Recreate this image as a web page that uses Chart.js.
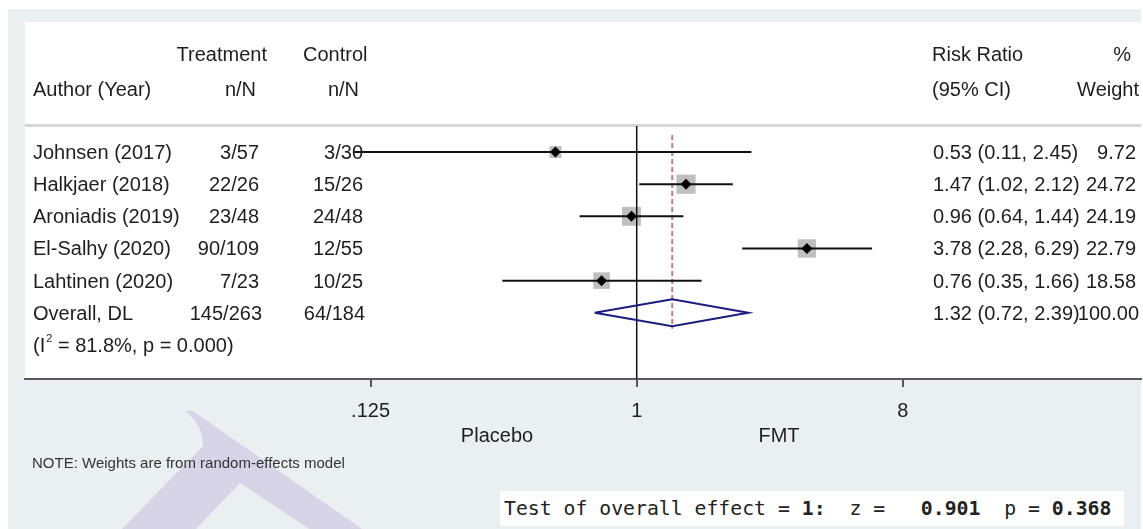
<!DOCTYPE html>
<html>
<head>
<meta charset="utf-8">
<script src="https://cdn.jsdelivr.net/npm/chart.js@4.4.0/dist/chart.umd.min.js"></script>
<style>
html,body{margin:0;padding:0;background:#ffffff;}
#wrap{position:relative;width:1143px;height:529px;overflow:hidden;}
#c{position:absolute;left:0;top:0;}
#note{position:absolute;left:32px;top:454px;font:15px "Liberation Sans",Arial,sans-serif;color:#333;white-space:nowrap;}
#test{position:absolute;left:500px;top:491px;width:624px;height:35px;background:#fff;font:19.8px "DejaVu Sans Mono",monospace;color:#222;white-space:pre;line-height:36px;padding-left:4px;box-sizing:border-box;}
#test b{font-weight:bold;}
</style>
</head>
<body>
<div id="wrap">
<canvas id="c" width="1143" height="529"></canvas>
<div id="note">NOTE: Weights are from random-effects model</div>
<div id="test">Test of overall effect = <b>1:</b>  z =   <b>0.901</b>  p = <b>0.368</b></div>
</div>
<script>
// ---- data ----
const authors   = ['Johnsen (2017)', 'Halkjaer (2018)', 'Aroniadis (2019)', 'El-Salhy (2020)', 'Lahtinen (2020)'];
const treatment = ['3/57', '22/26', '23/48', '90/109', '7/23'];
const control   = ['3/30', '15/26', '24/48', '12/55', '10/25'];
const rr        = [0.53, 1.47, 0.96, 3.78, 0.76];
const lower     = [0.11, 1.02, 0.64, 2.28, 0.35];
const upper     = [2.45, 2.12, 1.44, 6.29, 1.66];
const weights   = [9.72, 24.72, 24.19, 22.79, 18.58];

const overallLabel     = 'Overall, DL';
const overallTreatment = '145/263';
const overallControl   = '64/184';
const overallRR        = [1.32];
const overallLower     = [0.72];
const overallUpper     = [2.39];
const overallWeight    = [100.00];
const heterogeneity    = ['81.8%', '0.000'];

const tickValues = [0.125, 1, 8];
const tickLabels = ['.125', '1', '8'];
const nullValue  = 1;

// ---- styles ----
const FONT = '"Liberation Sans", Arial, sans-serif';
const TXT = '#1e1e1e';
const Y_MIN = -0.81, Y_MAX = 7.06;

const fmt = v => v.toFixed(2);
const ciText = (m, l, u) => fmt(m) + ' (' + fmt(l) + ', ' + fmt(u) + ')';

const datasets = [];

// squares (weight boxes)
datasets.push({
  data: rr.map((v, i) => ({x: v, y: i})),
  pointStyle: 'rect',
  pointRadius: ctx => 2.72 * Math.sqrt(weights[ctx.dataIndex]),
  pointHoverRadius: ctx => 2.72 * Math.sqrt(weights[ctx.dataIndex]),
  backgroundColor: '#bfbfbf',
  borderWidth: 0,
  showLine: false,
  order: 6
});
// null line
datasets.push({
  data: [{x: nullValue, y: Y_MIN}, {x: nullValue, y: Y_MAX}],
  showLine: true, borderColor: '#111', borderWidth: 1.5, pointRadius: 0, order: 5
});
// overall effect dashed line
datasets.push({
  data: [{x: overallRR[0], y: -0.53}, {x: overallRR[0], y: 5.5}],
  showLine: true, borderColor: '#c27d84', borderWidth: 2, borderDash: [5, 3], pointRadius: 0, order: 5
});
// CI lines
rr.forEach((v, i) => {
  datasets.push({
    data: [{x: lower[i], y: i}, {x: upper[i], y: i}],
    showLine: true, borderColor: '#111', borderWidth: 2, pointRadius: 0, order: 3
  });
});
// overall diamond
const oy = authors.length;
datasets.push({
  data: [
    {x: overallLower[0], y: oy}, {x: overallRR[0], y: oy - 0.42},
    {x: overallUpper[0], y: oy}, {x: overallRR[0], y: oy + 0.42},
    {x: overallLower[0], y: oy}
  ],
  showLine: true, borderColor: '#1c1c7c', borderWidth: 2, pointRadius: 0, fill: false, order: 2
});
// point estimate markers
datasets.push({
  data: rr.map((v, i) => ({x: v, y: i})),
  pointStyle: 'rectRot', pointRadius: 5.5, pointHoverRadius: 5.5,
  backgroundColor: '#000', borderWidth: 0, showLine: false, order: 1
});

const textPlugin = {
  id: 'forestText',
  beforeDraw(chart) {
    const ctx = chart.ctx;
    ctx.save();
    ctx.fillStyle = '#ffffff';
    ctx.fillRect(0, 0, 1143, 529);
    ctx.fillStyle = '#eaf0f2';
    ctx.fillRect(8, 9, 1133, 520);
    // watermark
    ctx.fillStyle = '#d7d4e8';
    ctx.beginPath();
    ctx.moveTo(185, 411);
    ctx.lineTo(193, 411);
    ctx.lineTo(362, 529);
    ctx.lineTo(309, 529);
    ctx.lineTo(240, 483);
    ctx.lineTo(196, 529);
    ctx.lineTo(122, 529);
    ctx.lineTo(203, 446);
    ctx.quadraticCurveTo(203, 424, 185, 411);
    ctx.closePath();
    ctx.fill();
    // white panel
    const a = chart.chartArea;
    ctx.fillStyle = '#ffffff';
    ctx.fillRect(a.left, 22, a.right - a.left, a.bottom - 22);
    // header separator
    ctx.fillStyle = '#d6d6d6';
    ctx.fillRect(a.left, 124, a.right - a.left, 3);
    ctx.restore();
  },
  afterDraw(chart) {
    const ctx = chart.ctx;
    const ys = chart.scales.y;
    ctx.save();
    ctx.fillStyle = TXT;
    ctx.font = '20px ' + FONT;
    ctx.textBaseline = 'alphabetic';
    const put = (t, x, y, align) => { ctx.textAlign = align; ctx.fillText(t, x, y); };
    // header
    put('Treatment', 267, 61, 'right');
    put('Control', 303, 61, 'left');
    put('Risk Ratio', 932, 61, 'left');
    put('%', 1131, 61, 'right');
    put('Author (Year)', 33, 96, 'left');
    put('n/N', 256, 96, 'right');
    put('n/N', 359, 96, 'right');
    put('(95% CI)', 932, 96, 'left');
    put('Weight', 1139, 96, 'right');
    // rows
    authors.forEach((name, i) => {
      const y = ys.getPixelForValue(i) + 7;
      put(name, 33, y, 'left');
      put(treatment[i], 259, y, 'right');
      put(control[i], 363, y, 'right');
      put(ciText(rr[i], lower[i], upper[i]), 933, y, 'left');
      put(fmt(weights[i]), 1136, y, 'right');
    });
    const yo = ys.getPixelForValue(authors.length) + 7;
    put(overallLabel, 33, yo, 'left');
    put(overallTreatment, 262, yo, 'right');
    put(overallControl, 365, yo, 'right');
    put(ciText(overallRR[0], overallLower[0], overallUpper[0]), 933, yo, 'left');
    put(fmt(overallWeight[0]), 1139, yo, 'right');
    // heterogeneity
    const yh = ys.getPixelForValue(authors.length + 1) + 7;
    let x = 33;
    ctx.textAlign = 'left';
    ctx.fillText('(I', x, yh); x += ctx.measureText('(I').width + 1;
    ctx.font = '11px ' + FONT;
    ctx.fillText('2', x, yh - 10); x += ctx.measureText('2').width;
    ctx.font = '20px ' + FONT;
    ctx.fillText(' = ' + heterogeneity[0] + ', p = ' + heterogeneity[1] + ')', x, yh);
    // favours labels
    ctx.textAlign = 'center';
    ctx.fillText('Placebo', 497, 442);
    ctx.fillText('FMT', 779, 442);
    ctx.restore();
  }
};

new Chart(document.getElementById('c'), {
  type: 'scatter',
  data: {datasets},
  options: {
    responsive: false,
    animation: false,
    devicePixelRatio: 1,
    layout: {autoPadding: false, padding: {left: 25, right: 2, top: 126, bottom: 110}},
    plugins: {legend: {display: false}, tooltip: {enabled: false}},
    events: [],
    scales: {
      x: {
        type: 'logarithmic',
        position: 'bottom',
        min: 0.008404,
        max: 51.41,
        afterBuildTicks: s => { s.ticks = tickValues.map(v => ({value: v})); },
        afterFit: s => { s.height = 40; },
        ticks: {
          autoSkip: false, maxRotation: 0, padding: 12,
          color: TXT, font: {family: FONT, size: 20},
          callback: v => tickLabels[tickValues.indexOf(v)]
        },
        grid: {drawOnChartArea: false, drawTicks: true, tickLength: 8, color: '#555', lineWidth: 2},
        border: {display: true, color: '#5a5a5a', width: 2}
      },
      y: {
        type: 'linear', reverse: true, min: Y_MIN, max: Y_MAX, display: false
      }
    }
  },
  plugins: [textPlugin]
});
</script>
</body>
</html>
